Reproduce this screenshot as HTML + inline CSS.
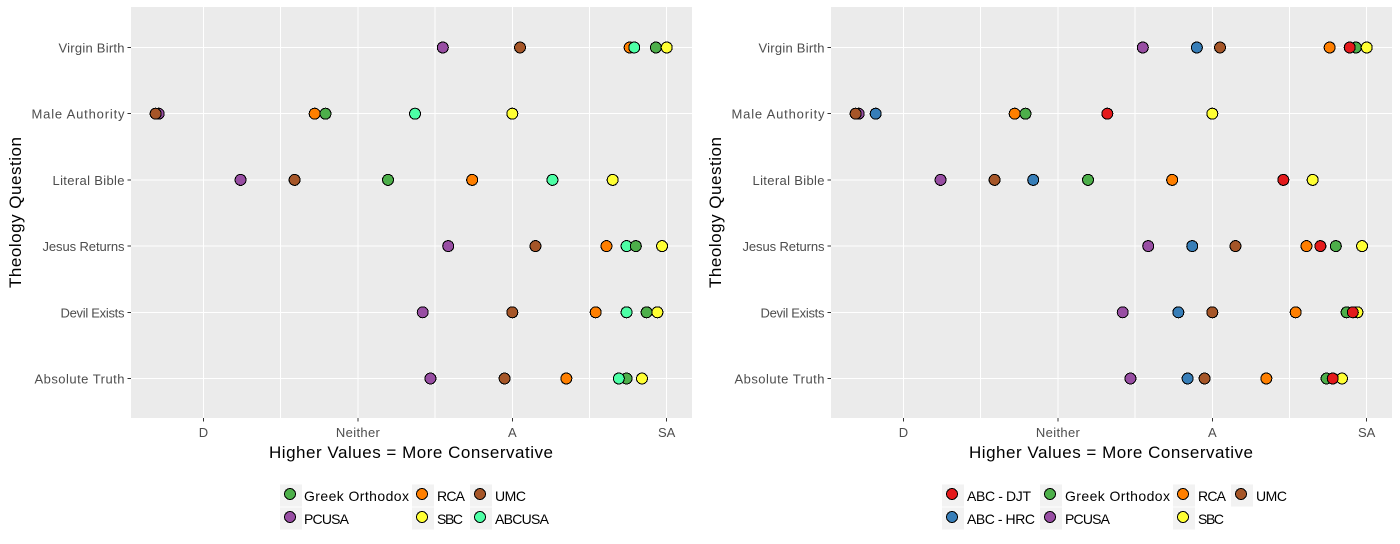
<!DOCTYPE html>
<html lang="en">
<head>
<meta charset="utf-8">
<title>Theology Questions Dot Plots</title>
<style>
html,body{margin:0;padding:0;background:#fff;width:1400px;height:544px;overflow:hidden}
svg{display:block;font-family:"Liberation Sans",sans-serif}
.tick-label{font-size:13px;fill:#4d4d4d}
.axis-title{font-size:17px;fill:#000}
.legend-label{font-size:14px;fill:#000}
</style>
</head>
<body>
<svg id="chart" xmlns="http://www.w3.org/2000/svg" width="1400" height="544" viewBox="0 0 1400 544"></svg>
<script>
const questions = ['Virgin Birth','Male Authority','Literal Bible','Jesus Returns','Devil Exists','Absolute Truth'];
const xTickValues = [2,3,4,5];
const xTickLabels = ['D','Neither','A','SA'];
const xGridValues = [2,2.5,3,3.5,4,4.5,5];

const pcusa  = [3.55,1.71,2.24,3.585,3.42,3.47];
const umc    = [4.05,1.69,2.59,4.15,4.00,3.95];
const rca    = [4.76,2.72,3.74,4.61,4.54,4.35];
const greek  = [4.93,2.79,3.195,4.80,4.87,4.74];
const sbc    = [5.00,4.00,4.65,4.97,4.94,4.84];
const abcusa = [4.79,3.37,4.26,4.74,4.74,4.69];
const abcDjt = [4.89,3.32,4.46,4.70,4.91,4.78];
const abcHrc = [3.90,1.82,2.84,3.87,3.78,3.84];

const colors = {
  'ABC - DJT':'#e41a1c','ABC - HRC':'#377eb8','Greek Orthodox':'#4daf4a','PCUSA':'#984ea3',
  'RCA':'#ff7f00','SBC':'#ffff33','UMC':'#a65628','ABCUSA':'#4dffa6'
};
const valuesBySeries = {
  'ABC - DJT':abcDjt,'ABC - HRC':abcHrc,'Greek Orthodox':greek,'PCUSA':pcusa,
  'RCA':rca,'SBC':sbc,'UMC':umc,'ABCUSA':abcusa
};
const leftDrawOrder = ['PCUSA','Greek Orthodox','SBC','RCA','UMC','ABCUSA'];
const rightDrawOrder = ['PCUSA','ABC - HRC','Greek Orthodox','SBC','RCA','UMC','ABC - DJT'];
const greekOnTopIn = ['Jesus Returns'];

const leftLegend = [
  {label:'Greek Orthodox',key:280,text:304,row:0},
  {label:'PCUSA',key:280,text:304,row:1},
  {label:'RCA',key:412,text:437,row:0},
  {label:'SBC',key:412,text:437,row:1},
  {label:'UMC',key:470,text:495,row:0},
  {label:'ABCUSA',key:470,text:495,row:1}
];
const rightLegend = [
  {label:'ABC - DJT',key:942,text:967,row:0},
  {label:'ABC - HRC',key:942,text:967,row:1},
  {label:'Greek Orthodox',key:1040,text:1065,row:0},
  {label:'PCUSA',key:1040,text:1065,row:1},
  {label:'RCA',key:1173,text:1198,row:0},
  {label:'SBC',key:1173,text:1198,row:1},
  {label:'UMC',key:1231,text:1256,row:0}
];

/* Rendered text widths, used only to fit the substitute font to the original type. */
const textFit = {
  'Virgin Birth':66,'Male Authority':93,'Literal Bible':72,'Jesus Returns':82,'Devil Exists':64,'Absolute Truth':90,
  'Neither':44,'Higher Values = More Conservative':284,'Theology Question':151,
  'Greek Orthodox':105,'PCUSA':45,'RCA':28,'SBC':26,'UMC':31,'ABCUSA':54,'ABC - DJT':64,'ABC - HRC':68
};

const NS = 'http://www.w3.org/2000/svg';
const PANEL = {left:131,right:692,top:7,bottom:418};
function xScale(v){ return 203.5 + (v - 2) * 154.4; }
function yScale(i){ return 47.5 + i * 66.2; }
function slug(s){ return s.toLowerCase().replace(/[^a-z0-9]+/g,'-').replace(/^-|-$/g,''); }
function mk(parent, tag, attrs, text){
  const el = document.createElementNS(NS, tag);
  for (const k in attrs) el.setAttribute(k, attrs[k]);
  if (text !== undefined) {
    el.textContent = text;
    if (textFit[text]) {
      el.setAttribute('textLength', textFit[text]);
      el.setAttribute('lengthAdjust', 'spacing');
    }
  }
  parent.appendChild(el);
  return el;
}
function drawPanel(root, offset, panelName, drawOrder, legendItems){
  const g = mk(root,'g',{transform:'translate('+offset+',0)'});
  
  

  const bg = mk(g,'rect',{x:PANEL.left,y:PANEL.top,width:PANEL.right-PANEL.left,height:PANEL.bottom-PANEL.top,fill:'#ebebeb'});
  
  

  xGridValues.forEach(function(v){
    const line = mk(g,'line',{x1:xScale(v),x2:xScale(v),y1:PANEL.top,y2:PANEL.bottom,stroke:'#fff','stroke-width':1,'shape-rendering':'crispEdges'});
    
    
  });
  questions.forEach(function(q,i){
    const line = mk(g,'line',{x1:PANEL.left,x2:PANEL.right,y1:yScale(i),y2:yScale(i),stroke:'#fff','stroke-width':1,'shape-rendering':'crispEdges'});
    
    

    const tick = mk(g,'line',{x1:127.5,x2:PANEL.left,y1:yScale(i),y2:yScale(i),stroke:'#333','stroke-width':1,'shape-rendering':'crispEdges'});
    
    

    const label = mk(g,'text',{x:124.5,y:yScale(i)+5,'text-anchor':'end','class':'tick-label'},q);
    
    
  });
  xTickValues.forEach(function(v,i){
    const tick = mk(g,'line',{x1:xScale(v),x2:xScale(v),y1:PANEL.bottom,y2:PANEL.bottom+3.5,stroke:'#333','stroke-width':1,'shape-rendering':'crispEdges'});
    
    

    const label = mk(g,'text',{x:xScale(v),y:437,'text-anchor':'middle','class':'tick-label'},xTickLabels[i]);
    
    
  });

  const xTitle = mk(g,'text',{x:411,y:458,'text-anchor':'middle','class':'axis-title'},'Higher Values = More Conservative');
  
  

  const yTitle = mk(g,'text',{x:0,y:0,transform:'translate(21,212.5) rotate(-90)','text-anchor':'middle','class':'axis-title'},'Theology Question');
  
  

  questions.forEach(function(q,i){
    let order = drawOrder.slice();
    if (greekOnTopIn.indexOf(q) >= 0) {
      order = order.filter(function(s){ return s !== 'Greek Orthodox'; });
      order.push('Greek Orthodox');
    }
    order.forEach(function(s){
      const pt = mk(g,'circle',{cx:xScale(valuesBySeries[s][i]),cy:yScale(i),r:5.5,fill:colors[s],stroke:'#000','stroke-width':1,'shape-rendering':'crispEdges'});
      
      
    });
  });

  legendItems.forEach(function(item){
    const keyX = item.key - offset;
    const keyY = 484.5 + item.row * 23;
    const entry = mk(g,'g',{});
    
    

    const box = mk(entry,'rect',{x:keyX,y:keyY,width:22,height:22,fill:'#f2f2f2','shape-rendering':'crispEdges'});
    
    

    const dot = mk(entry,'circle',{cx:keyX+10,cy:keyY+9.5,r:5.5,fill:colors[item.label],stroke:'#000','stroke-width':1,'shape-rendering':'crispEdges'});
    
    

    const text = mk(entry,'text',{x:item.text-offset,y:keyY+16.5,'class':'legend-label'},item.label);
    
    
  });
}
const svg = document.getElementById('chart');
drawPanel(svg, 0, 'left-panel', leftDrawOrder, leftLegend);
drawPanel(svg, 700, 'right-panel', rightDrawOrder, rightLegend);
</script>
</body>
</html>
